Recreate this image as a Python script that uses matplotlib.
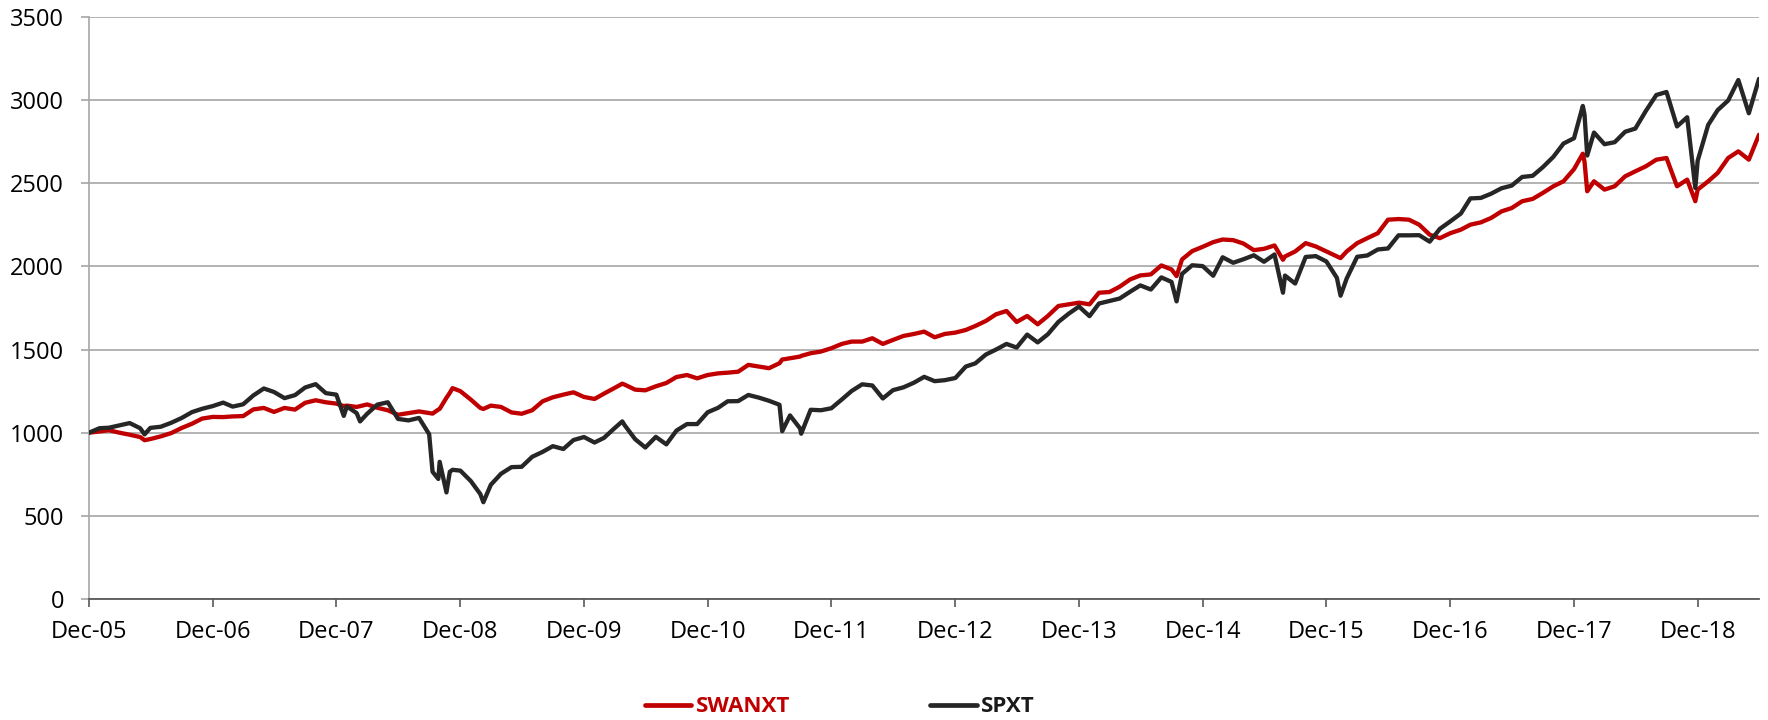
import matplotlib
matplotlib.use("Agg")
import matplotlib.pyplot as plt
from matplotlib.lines import Line2D
import pandas as pd

plt.rcParams['font.family'] = ['Open Sans', 'DejaVu Sans']

# ---------------- data ----------------
series_names = ["SWANXT", "SPXT"]
series_colors = ["#C00000", "#262626"]

start_date = "2005-12-31"   # month-end values, Dec-2005 .. Jun-2019

swanxt_monthly = [
    1000,
    1008, 1015, 1000, 988, 974, 962, 978, 998, 1028, 1054, 1085, 1095,
    1094, 1098, 1100, 1140, 1149, 1125, 1149, 1139, 1180, 1195, 1183, 1175,
    1163, 1155, 1170, 1150, 1135, 1108, 1118, 1128, 1118, 1143, 1240, 1250,
    1199, 1149, 1163, 1155, 1122, 1114, 1135, 1189, 1213, 1229, 1243, 1215,
    1203, 1235, 1269, 1289, 1259, 1255, 1279, 1299, 1335, 1347, 1327, 1347,
    1357, 1361, 1367, 1408, 1398, 1388, 1418, 1448, 1458, 1478, 1488, 1508,
    1534, 1548, 1548, 1568, 1534, 1558, 1582, 1594, 1608, 1574, 1594, 1602,
    1618, 1642, 1672, 1712, 1732, 1666, 1702, 1652, 1702, 1762, 1772, 1782,
    1772, 1842, 1846, 1878, 1922, 1946, 1952, 2006, 1982, 2042, 2092, 2118,
    2146, 2162, 2158, 2138, 2098, 2106, 2126, 2060, 2090, 2140, 2120, 2090,
    2060, 2090, 2140, 2170, 2200, 2281, 2285, 2281, 2251, 2191, 2170, 2200,
    2221, 2251, 2265, 2291, 2331, 2351, 2392, 2406, 2442, 2482, 2512, 2585,
    2630, 2512, 2462, 2482, 2542, 2572, 2602, 2642, 2652, 2482, 2522, 2462,
    2512, 2562, 2652, 2692, 2642, 2792,
]

spxt_monthly = [
    1000,
    1027, 1030, 1044, 1058, 1027, 1029, 1036, 1060, 1088, 1124, 1144, 1160,
    1181, 1157, 1171, 1224, 1266, 1245, 1208, 1226, 1272, 1292, 1238, 1229,
    1158, 1118, 1114, 1169, 1183, 1083, 1074, 1089, 991, 825, 765, 772,
    709, 631, 687, 753, 793, 795, 855, 885, 919, 902, 956, 974,
    941, 969, 1027, 1045, 961, 911, 975, 930, 1013, 1052, 1052, 1123,
    1150, 1189, 1190, 1227, 1211, 1192, 1168, 1104, 1025, 1138, 1135, 1147,
    1200, 1251, 1291, 1284, 1206, 1256, 1273, 1301, 1336, 1310, 1316, 1329,
    1398, 1417, 1470, 1500, 1534, 1512, 1590, 1543, 1592, 1666, 1715, 1759,
    1701, 1777, 1792, 1807, 1848, 1886, 1861, 1934, 1907, 1955, 2007, 2002,
    1944, 2055, 2022, 2043, 2067, 2028, 2072, 1945, 1897, 2057, 2062, 2030,
    1932, 1927, 2058, 2066, 2102, 2108, 2187, 2187, 2188, 2149, 2226, 2271,
    2318, 2409, 2412, 2437, 2470, 2486, 2538, 2545, 2597, 2659, 2739, 2771,
    2913, 2805, 2735, 2747, 2810, 2829, 2935, 3031, 3049, 2842, 2897, 2636,
    2851, 2940, 2998, 3121, 2921, 3128,
]

# intra-month extremes visible in the reference
extra_dates = [
    "2006-06-13", "2008-01-22", "2008-03-10", "2008-10-10", "2008-10-27",
    "2008-11-20", "2008-12-08", "2009-03-09", "2010-04-23", "2011-08-08",
    "2011-10-03", "2014-10-15", "2015-08-25", "2016-02-11", "2018-01-26",
    "2018-02-08", "2018-12-24",
]
swanxt_extra = [955, 1160, 1160, 1115, 1139, 1210, 1268, 1143, 1295, 1440,
                1462, 1942, 2040, 2050, 2678, 2452, 2392]
spxt_extra = [990, 1101, 1068, 765, 722, 641, 777, 582, 1068, 1009,
              994, 1790, 1842, 1824, 2965, 2667, 2472]

tick_dates = ["2005-12-31", "2006-12-31", "2007-12-31", "2008-12-31",
              "2009-12-31", "2010-12-31", "2011-12-31", "2012-12-31",
              "2013-12-31", "2014-12-31", "2015-12-31", "2016-12-31",
              "2017-12-31", "2018-12-31"]
tick_labels = ["Dec-05", "Dec-06", "Dec-07", "Dec-08", "Dec-09", "Dec-10",
               "Dec-11", "Dec-12", "Dec-13", "Dec-14", "Dec-15", "Dec-16",
               "Dec-17", "Dec-18"]
y_ticks = [0, 500, 1000, 1500, 2000, 2500, 3000, 3500]

# ---------------- assemble ----------------
month_dates = pd.date_range(start_date, periods=len(spxt_monthly), freq="ME")
df = pd.DataFrame({
    "date": list(month_dates) + list(pd.to_datetime(extra_dates)),
    "SWANXT": swanxt_monthly + swanxt_extra,
    "SPXT": spxt_monthly + spxt_extra,
}).sort_values("date")

# ---------------- figure ----------------
W, H = 1768, 720
fig = plt.figure(figsize=(W / 100, H / 100), dpi=100)
left, right, top, bottom = 89, 1759, 17, 599
ax = fig.add_axes([left / W, 1 - bottom / H, (right - left) / W, (bottom - top) / H])

for name, col in zip(series_names, series_colors):
    ax.plot(df["date"], df[name], color=col, lw=3.1,
            solid_joinstyle="round", solid_capstyle="round", zorder=3)

ax.set_ylim(0, 3500)
ax.set_yticks(y_ticks)
ax.set_xlim(month_dates[0], month_dates[-1])
ax.set_xticks(pd.to_datetime(tick_dates))
ax.set_xticklabels(tick_labels)

ax.yaxis.grid(True, color="#A6A6A6", lw=1.2)
ax.set_axisbelow(True)
for s in ["top", "right"]:
    ax.spines[s].set_visible(False)
ax.spines["left"].set_color("#A6A6A6")
ax.spines["left"].set_linewidth(1.2)
ax.spines["bottom"].set_color("#595959")
ax.spines["bottom"].set_linewidth(1.3)
ax.spines["bottom"].set_zorder(4)

ax.tick_params(axis="x", direction="out", length=6, width=1.2, color="#595959",
               pad=9, labelsize=17, labelcolor="#000000")
ax.tick_params(axis="y", direction="out", length=6, width=1.2, color="#A6A6A6",
               pad=12, labelsize=17, labelcolor="#000000")

handles = [Line2D([], [], color=c, lw=3.4, solid_capstyle="round") for c in series_colors]
leg = fig.legend(handles, series_names, loc="center",
                 bbox_to_anchor=(840 / W, 1 - 707 / H), ncol=2, frameon=False,
                 handlelength=2.1, handletextpad=0.2, columnspacing=6.3,
                 prop={"weight": "bold", "size": 16},
                 labelcolor=["#C00000", "#1A1A1A"])

fig.savefig("out.png", dpi=100)
